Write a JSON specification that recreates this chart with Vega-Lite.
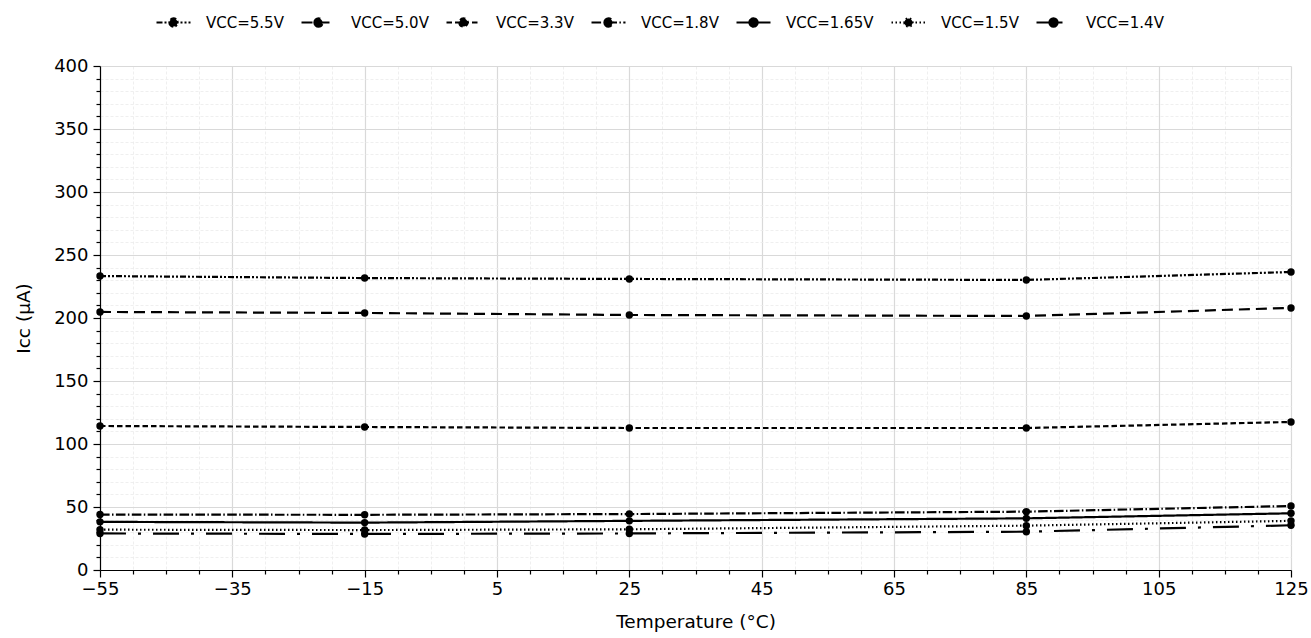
{
  "$schema": "https://vega.github.io/schema/vega-lite/v6.json",
  "width": 1191,
  "height": 504,
  "autosize": {"type": "none"},
  "padding": {"left": 100, "top": 66, "right": 20, "bottom": 68},
  "background": "white",
  "config": {
    "font": "DejaVu Sans",
    "view": {"stroke": null},
    "axis": {
      "labelFont": "DejaVu Sans",
      "titleFont": "DejaVu Sans",
      "labelFontSize": 18,
      "titleFontSize": 18.5,
      "titleFontWeight": "normal",
      "labelColor": "black",
      "titleColor": "black",
      "domainColor": "black",
      "domainWidth": 1.2,
      "tickColor": "black",
      "tickWidth": 1.2,
      "labelOverlap": false,
      "labelFlush": false,
      "labelBound": false
    },
    "legend": {
      "labelFont": "DejaVu Sans",
      "labelFontSize": 15,
      "labelColor": "black"
    }
  },
  "data": {
    "values": [
      {"vcc": "VCC=5.5V", "t": -55, "i": 233.3},
      {"vcc": "VCC=5.5V", "t": -15, "i": 231.7},
      {"vcc": "VCC=5.5V", "t": 25, "i": 231.0},
      {"vcc": "VCC=5.5V", "t": 85, "i": 230.2},
      {"vcc": "VCC=5.5V", "t": 125, "i": 236.5},
      {"vcc": "VCC=5.0V", "t": -55, "i": 204.8},
      {"vcc": "VCC=5.0V", "t": -15, "i": 204.0},
      {"vcc": "VCC=5.0V", "t": 25, "i": 202.4},
      {"vcc": "VCC=5.0V", "t": 85, "i": 201.6},
      {"vcc": "VCC=5.0V", "t": 125, "i": 208.0},
      {"vcc": "VCC=3.3V", "t": -55, "i": 114.3},
      {"vcc": "VCC=3.3V", "t": -15, "i": 113.5},
      {"vcc": "VCC=3.3V", "t": 25, "i": 112.7},
      {"vcc": "VCC=3.3V", "t": 85, "i": 112.7},
      {"vcc": "VCC=3.3V", "t": 125, "i": 117.5},
      {"vcc": "VCC=1.8V", "t": -55, "i": 44.0},
      {"vcc": "VCC=1.8V", "t": -15, "i": 43.8},
      {"vcc": "VCC=1.8V", "t": 25, "i": 44.4},
      {"vcc": "VCC=1.8V", "t": 85, "i": 46.3},
      {"vcc": "VCC=1.8V", "t": 125, "i": 50.8},
      {"vcc": "VCC=1.65V", "t": -55, "i": 38.2},
      {"vcc": "VCC=1.65V", "t": -15, "i": 37.6},
      {"vcc": "VCC=1.65V", "t": 25, "i": 39.0},
      {"vcc": "VCC=1.65V", "t": 85, "i": 41.0},
      {"vcc": "VCC=1.65V", "t": 125, "i": 45.0},
      {"vcc": "VCC=1.5V", "t": -55, "i": 32.0},
      {"vcc": "VCC=1.5V", "t": -15, "i": 31.7},
      {"vcc": "VCC=1.5V", "t": 25, "i": 32.3},
      {"vcc": "VCC=1.5V", "t": 85, "i": 35.2},
      {"vcc": "VCC=1.5V", "t": 125, "i": 39.0},
      {"vcc": "VCC=1.4V", "t": -55, "i": 29.0},
      {"vcc": "VCC=1.4V", "t": -15, "i": 28.6},
      {"vcc": "VCC=1.4V", "t": 25, "i": 29.0},
      {"vcc": "VCC=1.4V", "t": 85, "i": 30.4},
      {"vcc": "VCC=1.4V", "t": 125, "i": 35.5}
    ]
  },
  "encoding": {
    "x": {
      "field": "t",
      "type": "quantitative",
      "scale": {"domain": [-55, 125], "nice": false, "zero": false},
      "axis": {
        "title": "Temperature (°C)",
        "titlePadding": 14,
        "values": [-55,-50,-45,-40,-35,-30,-25,-20,-15,-10,-5,0,5,10,15,20,25,30,35,40,45,50,55,60,65,70,75,80,85,90,95,100,105,110,115,120,125],
        "labelExpr": "(datum.value + 55) % 20 == 0 ? replace(format(datum.value, 'd'), '-', '\u2212') : ''",
        "labelPadding": 3,
        "tickSize": {"condition": {"test": "(datum.value + 55) % 20 == 0", "value": 7}, "value": 4},
        "gridColor": {"condition": {"test": "(datum.value + 55) % 20 == 0", "value": "#d9d9d9"}, "value": "#ebebeb"},
        "gridDash": {"condition": {"test": "(datum.value + 55) % 20 == 0", "value": []}, "value": [3, 2]},
        "gridWidth": {"condition": {"test": "(datum.value + 55) % 20 == 0", "value": 1.2}, "value": 0.8}
      }
    },
    "y": {
      "field": "i",
      "type": "quantitative",
      "scale": {"domain": [0, 400], "nice": false},
      "axis": {
        "title": "Iᴄᴄ (μA)",
        "titlePadding": 20,
        "values": [0,10,20,30,40,50,60,70,80,90,100,110,120,130,140,150,160,170,180,190,200,210,220,230,240,250,260,270,280,290,300,310,320,330,340,350,360,370,380,390,400],
        "labelExpr": "datum.value % 50 == 0 ? format(datum.value, 'd') : ''",
        "labelPadding": 5,
        "tickSize": {"condition": {"test": "datum.value % 50 == 0", "value": 7}, "value": 4},
        "gridColor": {"condition": {"test": "datum.value % 50 == 0", "value": "#d9d9d9"}, "value": "#ebebeb"},
        "gridDash": {"condition": {"test": "datum.value % 50 == 0", "value": []}, "value": [3, 2]},
        "gridWidth": {"condition": {"test": "datum.value % 50 == 0", "value": 1.2}, "value": 0.8}
      }
    }
  },
  "layer": [
    {
      "mark": {"type": "line", "color": "black", "strokeWidth": 2.2},
      "encoding": {
        "detail": {"field": "vcc"},
        "strokeDash": {
          "field": "vcc",
          "type": "nominal",
          "scale": {
            "domain": ["VCC=5.5V", "VCC=5.0V", "VCC=3.3V", "VCC=1.8V", "VCC=1.65V", "VCC=1.5V", "VCC=1.4V"],
            "range": [[6, 2, 2, 2, 2, 2], [11, 6], [5.5, 3], [9.6, 2.4, 1.5, 2.4], [1, 0], [1.5, 2.5], [26, 12, 3, 12]]
          },
          "legend": {
            "title": null,
            "orient": "none",
            "direction": "horizontal",
            "legendX": 55,
            "legendY": -62,
            "columns": 7,
            "columnPadding": 13,
            "symbolType": "M-1,0H1M-0.24,0A0.24,0.24 0 1,0 0.24,0A0.24,0.24 0 1,0 -0.24,0Z",
            "symbolSize": 1156,
            "symbolStrokeWidth": 2.2,
            "symbolStrokeColor": "black",
            "symbolFillColor": "black",
            "labelOffset": 14,
            "encode": {"symbols": {"update": {"fill": {"value": "black"}, "stroke": {"value": "black"}}}}
          }
        }
      }
    },
    {
      "mark": {"type": "point", "filled": true, "color": "black", "size": 55, "opacity": 1, "shape": "circle"}
    }
  ]
}
